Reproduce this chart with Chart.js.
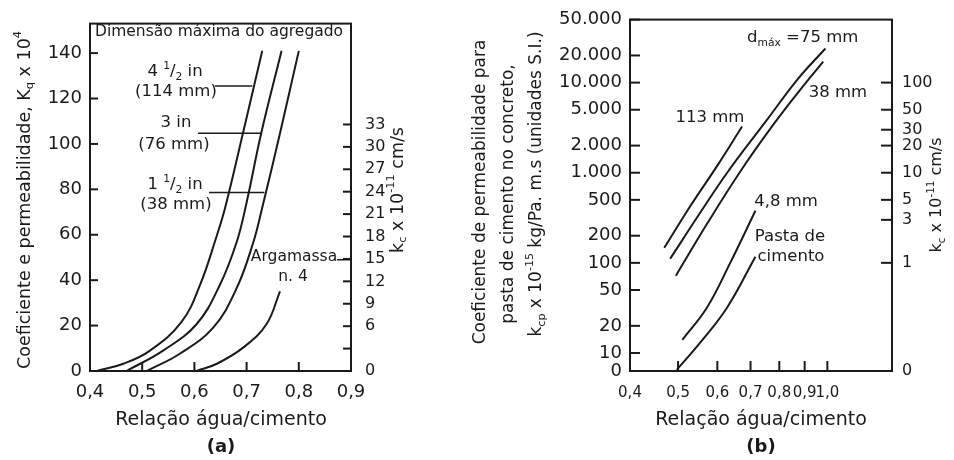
<!DOCTYPE html>
<html>
<head>
<meta charset="utf-8">
<script src="https://cdn.jsdelivr.net/npm/chart.js@4.4.1/dist/chart.umd.min.js"></script>
<style>
  html, body { margin: 0; padding: 0; background: #fff; }
  #wrap { position: relative; width: 954px; height: 460px; overflow: hidden; }
  canvas { position: absolute; top: 0; }
  #chartA { left: 0; }
  #chartB { left: 440px; }
</style>
</head>
<body>
<div id="wrap">
  <canvas id="chartA" width="477" height="460"></canvas>
  <canvas id="chartB" width="514" height="460"></canvas>
</div>
<script>
// ---------- (a) Kq x 10^4 against water/cement ratio ----------
const ratio114 = [0.413, 0.464, 0.515, 0.575, 0.611, 0.643, 0.659, 0.693, 0.730];
const kq114    = [0, 3.2, 9.0, 21.5, 38, 59.7, 72, 104.7, 141];
const ratio76  = [0.470, 0.540, 0.604, 0.649, 0.681, 0.700, 0.728, 0.767];
const kq76     = [0, 9.0, 20.6, 38, 56.8, 74.2, 104.7, 141];
const ratio38  = [0.509, 0.572, 0.636, 0.681, 0.713, 0.730, 0.764, 0.800];
const kq38     = [0, 7.6, 19.1, 36.5, 56.8, 72, 104.7, 141];
const ratioMortar = [0.604, 0.643, 0.694, 0.738, 0.764];
const kqMortar    = [0, 3.2, 10.4, 20.6, 35.1];

// leader lines from the size labels to the curves: [x from, x to, y]
const leadersA = [[0.639, 0.711, 125.5], [0.607, 0.728, 104.7], [0.628, 0.734, 78.6], [0.873, 0.9, 49]];

const ratioTicksA = [0.4, 0.5, 0.6, 0.7, 0.8, 0.9];
const kqTicks = [0, 20, 40, 60, 80, 100, 120, 140];
const kcTicksA = [0, 3, 6, 9, 12, 15, 18, 21, 24, 27, 30, 33];

// ---------- (b) kcp x 10^-15 (log) against water/cement ratio (log) ----------
const ratio113b = [0.469, 0.529, 0.600, 0.673];
const kcp113    = [147, 425, 1200, 3250];
const ratio75b  = [0.482, 0.554, 0.628, 0.756, 0.870, 0.991];
const kcp75     = [111, 359, 1000, 3880, 10800, 23900];
const ratio38b  = [0.495, 0.572, 0.667, 0.778, 0.882, 0.981];
const kcp38     = [72, 271, 1026, 3410, 8350, 17100];
const ratio48b  = [0.510, 0.572, 0.637, 0.716];
const kcp48     = [14, 32, 100, 378];
const ratioPaste = [0.497, 0.554, 0.628, 0.716];
const kcpPaste   = [6.5, 13, 32, 117];

const KCP_MIN = 6.31;   // bottom of the log axis, printed as "0"
const KC_MIN = 0.0631;
const ratioTicksB = [0.4, 0.5, 0.6, 0.7, 0.8, 0.9, 1.0];
const kcpTicks = [KCP_MIN, 10, 20, 50, 100, 200, 500, 1000, 2000, 5000, 10000, 20000, 50000];
const kcTicksB = [KC_MIN, 1, 3, 5, 10, 20, 30, 50, 100];

const INK = '#1a1a1a';
const FONT = '"DejaVu Sans", sans-serif';
Chart.defaults.font.family = FONT;
Chart.defaults.color = INK;

const toPoints = (xs, ys) => xs.map((x, i) => ({ x: x, y: ys[i] }));
const curve = (xs, ys, w) => ({ data: toPoints(xs, ys), borderColor: INK, borderWidth: w || 2 });
const setTicks = vals => scale => { scale.ticks = vals.map(v => ({ value: v })); };
const comma = v => v.toFixed(1).replace('.', ',');
const thousands = v => String(Math.round(v)).replace(/\B(?=(\d{3})+(?!\d))/g, '.');

// text with sub/superscripts, parts = [[text, 'sub'|'sup'|undefined], ...]
function drawRich(ctx, n, offsetX) {
  const font = s => (n.bold ? 'bold ' : '') + s + 'px ' + FONT;
  ctx.save();
  ctx.translate(n.x - offsetX, n.y);
  if (n.rot) ctx.rotate(-Math.PI / 2);
  ctx.fillStyle = INK;
  ctx.textBaseline = 'middle';
  ctx.textAlign = 'left';
  let total = 0;
  const widths = n.parts.map(p => {
    ctx.font = font(p[1] ? n.size * 0.65 : n.size);
    const w = ctx.measureText(p[0]).width;
    total += w;
    return w;
  });
  let cx = n.align === 'left' ? 0 : -total / 2;
  n.parts.forEach((p, i) => {
    ctx.font = font(p[1] ? n.size * 0.65 : n.size);
    const dy = p[1] === 'sub' ? n.size * 0.3 : p[1] === 'sup' ? -n.size * 0.38 : 0;
    ctx.fillText(p[0], cx, dy);
    cx += widths[i];
  });
  ctx.restore();
}

// box round the plot, inward tick marks, and the free texts
function framePlugin(tickLens, notes, offsetX) {
  return {
    id: 'frame',
    afterDraw(chart) {
      const ctx = chart.ctx, a = chart.chartArea;
      ctx.save();
      ctx.strokeStyle = INK;
      ctx.lineWidth = 2;
      ctx.strokeRect(a.left, a.top, a.right - a.left, a.bottom - a.top);
      Object.keys(tickLens).forEach(id => {
        const s = chart.scales[id], len = tickLens[id];
        s.ticks.forEach(t => {
          const p = s.getPixelForValue(t.value);
          ctx.beginPath();
          if (s.isHorizontal()) { ctx.moveTo(p, a.bottom); ctx.lineTo(p, a.bottom - len); }
          else if (s.position === 'left') { ctx.moveTo(a.left, p); ctx.lineTo(a.left + len, p); }
          else { ctx.moveTo(a.right, p); ctx.lineTo(a.right - len, p); }
          ctx.stroke();
        });
      });
      ctx.restore();
      notes.forEach(n => drawRich(ctx, n, offsetX));
    }
  };
}

const noGrid = { display: false, drawTicks: false };
const noBorder = { display: false };
const baseOptions = {
  responsive: false,
  animation: false,
  plugins: { legend: { display: false }, tooltip: { enabled: false } },
  elements: { point: { radius: 0 }, line: { tension: 0.4, borderCapStyle: 'butt' } },
};

// ---------------------------
// Panel (a)
// ---------------------------
const notesA = [
  { parts: [['Coeficiente e permeabilidade, K'], ['q', 'sub'], [' x 10'], ['4', 'sup']], x: 25, y: 200, size: 17.5, rot: true },
  { parts: [['k'], ['c', 'sub'], [' x 10'], ['-11', 'sup'], [' cm/s']], x: 398, y: 190, size: 17.5, rot: true },
  { parts: [['Dimensão máxima do agregado']], x: 219, y: 32, size: 15.5 },
  { parts: [['4 '], ['1', 'sup'], ['/'], ['2', 'sub'], [' in']], x: 175, y: 72, size: 16.5 },
  { parts: [['(114 mm)']], x: 176, y: 92, size: 16.5 },
  { parts: [['3 in']], x: 176, y: 123, size: 16.5 },
  { parts: [['(76 mm)']], x: 174, y: 145, size: 16.5 },
  { parts: [['1 '], ['1', 'sup'], ['/'], ['2', 'sub'], [' in']], x: 175, y: 185, size: 16.5 },
  { parts: [['(38 mm)']], x: 176, y: 205, size: 16.5 },
  { parts: [['Argamassa']], x: 294, y: 257, size: 15.5 },
  { parts: [['n. 4']], x: 293, y: 277, size: 15.5 },
  { parts: [['Relação água/cimento']], x: 221, y: 420, size: 19 },
  { parts: [['(a)']], x: 221, y: 447, size: 18, bold: true },
];

new Chart(document.getElementById('chartA'), {
  type: 'line',
  data: {
    datasets: [
      curve(ratio114, kq114), curve(ratio76, kq76), curve(ratio38, kq38), curve(ratioMortar, kqMortar),
    ].concat(leadersA.map(l => curve([l[0], l[1]], [l[2], l[2]], 1.6))),
  },
  options: Object.assign({}, baseOptions, {
    layout: { padding: { top: 19 } },
    scales: {
      x: {
        type: 'linear', min: 0.4, max: 0.9, bounds: 'data',
        grid: noGrid, border: noBorder,
        afterBuildTicks: setTicks(ratioTicksA),
        afterFit: s => { s.height = 89; },
        ticks: { font: { size: 18 }, padding: 11, autoSkip: false, maxRotation: 0, callback: v => comma(v) },
      },
      y: {
        type: 'linear', position: 'left', min: 0, max: 153, bounds: 'data',
        grid: noGrid, border: noBorder,
        afterBuildTicks: setTicks(kqTicks),
        afterFit: s => { s.width = 90; },
        ticks: { font: { size: 18 }, padding: 8, autoSkip: false },
      },
      y2: {
        type: 'linear', position: 'right', min: 0, max: 46.5, bounds: 'data',
        grid: noGrid, border: noBorder,
        afterBuildTicks: setTicks(kcTicksA),
        afterFit: s => { s.width = 126; },
        ticks: { font: { size: 16 }, padding: 14, autoSkip: false, callback: v => (v === 3 ? '' : v) },
      },
    },
  }),
  plugins: [framePlugin({ x: 9, y: 8, y2: 8 }, notesA, 0)],
});

// ---------------------------
// Panel (b)
// ---------------------------
const notesB = [
  { parts: [['Coeficiente de permeabilidade para']], x: 481, y: 192, size: 17, rot: true },
  { parts: [['pasta de cimento no concreto,']], x: 509, y: 194, size: 17, rot: true },
  { parts: [['k'], ['cp', 'sub'], [' x 10'], ['-15', 'sup'], [' kg/Pa. m.s (unidades S.I.)']], x: 537, y: 184, size: 17, rot: true },
  { parts: [['k'], ['c', 'sub'], [' x 10'], ['-11', 'sup'], [' cm/s']], x: 937, y: 195, size: 16, rot: true },
  { parts: [['d'], ['máx', 'sub'], [' =75 mm']], x: 747, y: 38, size: 16.5, align: 'left' },
  { parts: [['38 mm']], x: 838, y: 93, size: 16.5 },
  { parts: [['113 mm']], x: 710, y: 118, size: 16.5 },
  { parts: [['4,8 mm']], x: 786, y: 202, size: 16.5 },
  { parts: [['Pasta de']], x: 790, y: 237, size: 16.5 },
  { parts: [['cimento']], x: 791, y: 257, size: 16.5 },
  { parts: [['Relação água/cimento']], x: 761, y: 420, size: 19 },
  { parts: [['(b)']], x: 761, y: 447, size: 18, bold: true },
];

new Chart(document.getElementById('chartB'), {
  type: 'line',
  data: {
    datasets: [
      curve(ratio113b, kcp113), curve(ratio75b, kcp75), curve(ratio38b, kcp38),
      curve(ratio48b, kcp48), curve(ratioPaste, kcpPaste),
    ],
  },
  options: Object.assign({}, baseOptions, {
    layout: { padding: { top: 19 } },
    scales: {
      x: {
        type: 'logarithmic', min: 0.4, max: 1.35, bounds: 'data',
        grid: noGrid, border: noBorder,
        afterBuildTicks: setTicks(ratioTicksB),
        afterFit: s => { s.height = 89; },
        ticks: { font: { size: 15 }, padding: 13, autoSkip: false, maxRotation: 0, callback: v => comma(v) },
      },
      y: {
        type: 'logarithmic', position: 'left', min: KCP_MIN, max: 50000, bounds: 'data',
        grid: noGrid, border: noBorder,
        afterBuildTicks: setTicks(kcpTicks),
        afterFit: s => { s.width = 190; },
        ticks: { font: { size: 18 }, padding: 8, autoSkip: false, callback: v => (v <= KCP_MIN ? '0' : thousands(v)) },
      },
      y2: {
        type: 'logarithmic', position: 'right', min: KC_MIN, max: 500, bounds: 'data',
        grid: noGrid, border: noBorder,
        afterBuildTicks: setTicks(kcTicksB),
        afterFit: s => { s.width = 62; },
        ticks: { font: { size: 16 }, padding: 10, autoSkip: false, callback: v => (v <= KC_MIN ? '0' : String(v)) },
      },
    },
  }),
  plugins: [framePlugin({ x: 10, y: 10, y2: 11 }, notesB, 440)],
});
</script>
</body>
</html>
